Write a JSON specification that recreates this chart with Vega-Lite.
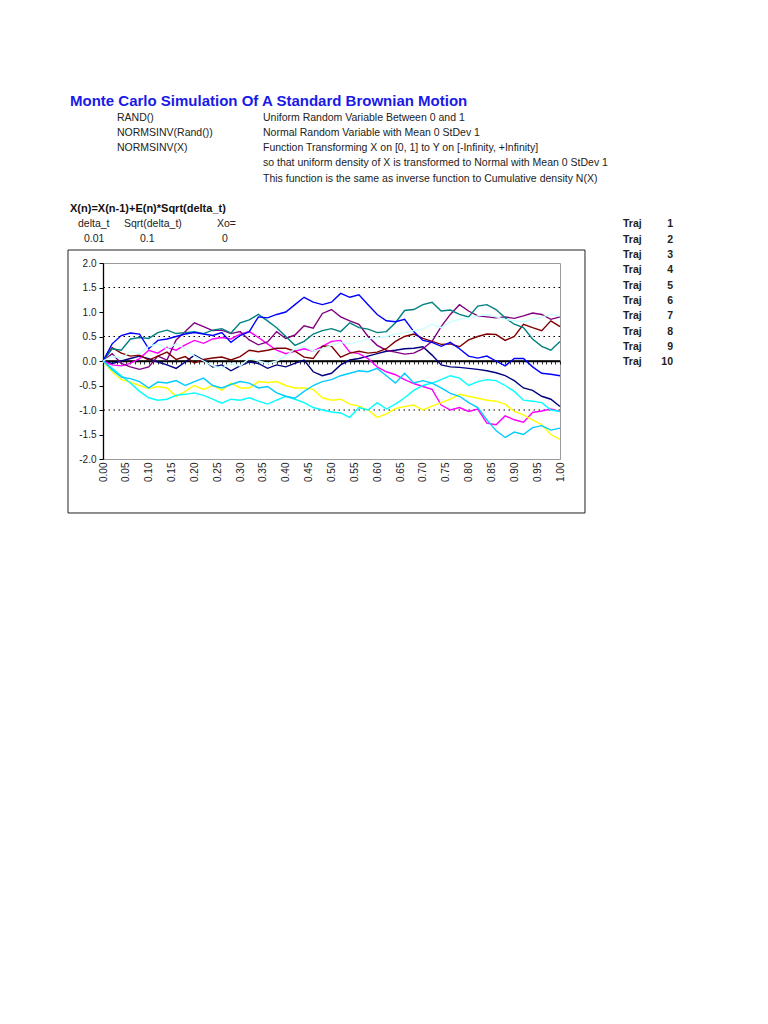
{
  "$schema": "https://vega.github.io/schema/vega-lite/v6.json",
  "width": 457,
  "height": 196,
  "autosize": {"type": "none"},
  "padding": {"left": 103, "top": 263, "right": 208, "bottom": 565},
  "background": "white",
  "config": {
    "view": {"stroke": "#9a9a9a", "strokeWidth": 1},
    "font": "Liberation Sans",
    "text": {"font": "Liberation Sans"},
    "locale": {"number": {"decimal": ".", "thousands": ",", "grouping": [3], "currency": ["$", ""], "minus": "-"}}
  },
  "data": {"values": [{}]},
  "datasets": {
    "grid": [{"g": 1.5}, {"g": 0.5}, {"g": -1.0}],
    "walk": [
      {"t":0.00,"Traj 1":0,"Traj 2":0,"Traj 3":0,"Traj 4":0,"Traj 5":0,"Traj 6":0,"Traj 7":0,"Traj 8":0,"Traj 9":0,"Traj 10":0},
      {"t":0.02,"Traj 1":-0.05,"Traj 2":-0.08,"Traj 3":-0.22,"Traj 4":-0.15,"Traj 5":0.15,"Traj 6":0.27,"Traj 7":0.25,"Traj 8":0.35,"Traj 9":-0.18,"Traj 10":0.1},
      {"t":0.04,"Traj 1":0,"Traj 2":-0.1,"Traj 3":-0.38,"Traj 4":-0.3,"Traj 5":-0.05,"Traj 6":0.16,"Traj 7":0.22,"Traj 8":0.52,"Traj 9":-0.33,"Traj 10":0.05},
      {"t":0.06,"Traj 1":0.05,"Traj 2":-0.05,"Traj 3":-0.43,"Traj 4":-0.45,"Traj 5":-0.12,"Traj 6":0.1,"Traj 7":0.45,"Traj 8":0.57,"Traj 9":-0.36,"Traj 10":0.2},
      {"t":0.08,"Traj 1":0.1,"Traj 2":0.05,"Traj 3":-0.5,"Traj 4":-0.62,"Traj 5":-0.17,"Traj 6":0.12,"Traj 7":0.48,"Traj 8":0.55,"Traj 9":-0.42,"Traj 10":0.15},
      {"t":0.10,"Traj 1":0.05,"Traj 2":0.22,"Traj 3":-0.56,"Traj 4":-0.75,"Traj 5":-0.12,"Traj 6":0.02,"Traj 7":0.46,"Traj 8":0.25,"Traj 9":-0.55,"Traj 10":0.3},
      {"t":0.12,"Traj 1":-0.02,"Traj 2":0.16,"Traj 3":-0.52,"Traj 4":-0.8,"Traj 5":0.1,"Traj 6":0.1,"Traj 7":0.58,"Traj 8":0.42,"Traj 9":-0.43,"Traj 10":0.35},
      {"t":0.14,"Traj 1":-0.08,"Traj 2":0.28,"Traj 3":-0.55,"Traj 4":-0.78,"Traj 5":0.02,"Traj 6":0.18,"Traj 7":0.63,"Traj 8":0.45,"Traj 9":-0.45,"Traj 10":0.25},
      {"t":0.16,"Traj 1":-0.15,"Traj 2":0.22,"Traj 3":-0.72,"Traj 4":-0.7,"Traj 5":0.43,"Traj 6":0.03,"Traj 7":0.56,"Traj 8":0.5,"Traj 9":-0.4,"Traj 10":0.35},
      {"t":0.18,"Traj 1":-0.02,"Traj 2":0.33,"Traj 3":-0.62,"Traj 4":-0.68,"Traj 5":0.6,"Traj 6":0.09,"Traj 7":0.58,"Traj 8":0.55,"Traj 9":-0.5,"Traj 10":0.25},
      {"t":0.20,"Traj 1":0.12,"Traj 2":0.42,"Traj 3":-0.5,"Traj 4":-0.65,"Traj 5":0.78,"Traj 6":-0.04,"Traj 7":0.6,"Traj 8":0.58,"Traj 9":-0.42,"Traj 10":0.1},
      {"t":0.22,"Traj 1":0.02,"Traj 2":0.36,"Traj 3":-0.58,"Traj 4":-0.7,"Traj 5":0.7,"Traj 6":0.03,"Traj 7":0.56,"Traj 8":0.55,"Traj 9":-0.35,"Traj 10":0},
      {"t":0.24,"Traj 1":-0.12,"Traj 2":0.45,"Traj 3":-0.5,"Traj 4":-0.78,"Traj 5":0.62,"Traj 6":0.06,"Traj 7":0.63,"Traj 8":0.52,"Traj 9":-0.5,"Traj 10":-0.1},
      {"t":0.26,"Traj 1":-0.08,"Traj 2":0.48,"Traj 3":-0.6,"Traj 4":-0.86,"Traj 5":0.63,"Traj 6":0.08,"Traj 7":0.66,"Traj 8":0.58,"Traj 9":-0.55,"Traj 10":-0.15},
      {"t":0.28,"Traj 1":-0.2,"Traj 2":0.45,"Traj 3":-0.45,"Traj 4":-0.78,"Traj 5":0.56,"Traj 6":0.02,"Traj 7":0.57,"Traj 8":0.38,"Traj 9":-0.48,"Traj 10":-0.05},
      {"t":0.30,"Traj 1":-0.1,"Traj 2":0.55,"Traj 3":-0.55,"Traj 4":-0.8,"Traj 5":0.6,"Traj 6":0.09,"Traj 7":0.78,"Traj 8":0.52,"Traj 9":-0.42,"Traj 10":-0.1},
      {"t":0.32,"Traj 1":-0.02,"Traj 2":0.6,"Traj 3":-0.55,"Traj 4":-0.75,"Traj 5":0.43,"Traj 6":0.22,"Traj 7":0.84,"Traj 8":0.6,"Traj 9":-0.45,"Traj 10":0.05},
      {"t":0.34,"Traj 1":-0.05,"Traj 2":0.48,"Traj 3":-0.42,"Traj 4":-0.82,"Traj 5":0.33,"Traj 6":0.19,"Traj 7":0.95,"Traj 8":0.9,"Traj 9":-0.55,"Traj 10":0},
      {"t":0.36,"Traj 1":-0.15,"Traj 2":0.35,"Traj 3":-0.44,"Traj 4":-0.88,"Traj 5":0.39,"Traj 6":0.22,"Traj 7":0.82,"Traj 8":0.88,"Traj 9":-0.52,"Traj 10":-0.05},
      {"t":0.38,"Traj 1":-0.08,"Traj 2":0.22,"Traj 3":-0.42,"Traj 4":-0.8,"Traj 5":0.6,"Traj 6":0.26,"Traj 7":0.68,"Traj 8":0.95,"Traj 9":-0.65,"Traj 10":0},
      {"t":0.40,"Traj 1":-0.12,"Traj 2":0.15,"Traj 3":-0.5,"Traj 4":-0.72,"Traj 5":0.46,"Traj 6":0.26,"Traj 7":0.5,"Traj 8":1.0,"Traj 9":-0.72,"Traj 10":0.1},
      {"t":0.42,"Traj 1":-0.05,"Traj 2":0.2,"Traj 3":-0.55,"Traj 4":-0.78,"Traj 5":0.53,"Traj 6":0.2,"Traj 7":0.32,"Traj 8":1.15,"Traj 9":-0.76,"Traj 10":0.25},
      {"t":0.44,"Traj 1":0.02,"Traj 2":0.25,"Traj 3":-0.55,"Traj 4":-0.85,"Traj 5":0.72,"Traj 6":0.08,"Traj 7":0.4,"Traj 8":1.3,"Traj 9":-0.62,"Traj 10":0.3},
      {"t":0.46,"Traj 1":-0.22,"Traj 2":0.2,"Traj 3":-0.58,"Traj 4":-0.95,"Traj 5":0.67,"Traj 6":0.05,"Traj 7":0.55,"Traj 8":1.2,"Traj 9":-0.5,"Traj 10":0.2},
      {"t":0.48,"Traj 1":-0.3,"Traj 2":0.3,"Traj 3":-0.75,"Traj 4":-1.0,"Traj 5":0.97,"Traj 6":0.3,"Traj 7":0.62,"Traj 8":1.15,"Traj 9":-0.42,"Traj 10":0.25},
      {"t":0.50,"Traj 1":-0.25,"Traj 2":0.4,"Traj 3":-0.8,"Traj 4":-1.04,"Traj 5":1.05,"Traj 6":0.3,"Traj 7":0.66,"Traj 8":1.2,"Traj 9":-0.38,"Traj 10":0.32},
      {"t":0.52,"Traj 1":-0.08,"Traj 2":0.42,"Traj 3":-0.78,"Traj 4":-1.06,"Traj 5":0.9,"Traj 6":0.08,"Traj 7":0.6,"Traj 8":1.38,"Traj 9":-0.3,"Traj 10":0.38},
      {"t":0.54,"Traj 1":0.02,"Traj 2":0.18,"Traj 3":-0.88,"Traj 4":-1.15,"Traj 5":0.82,"Traj 6":0.16,"Traj 7":0.78,"Traj 8":1.3,"Traj 9":-0.25,"Traj 10":0.35},
      {"t":0.56,"Traj 1":0.05,"Traj 2":0.15,"Traj 3":-0.92,"Traj 4":-0.95,"Traj 5":0.75,"Traj 6":0.2,"Traj 7":0.68,"Traj 8":1.35,"Traj 9":-0.2,"Traj 10":0.4},
      {"t":0.58,"Traj 1":0.1,"Traj 2":0.05,"Traj 3":-1.0,"Traj 4":-1.0,"Traj 5":0.5,"Traj 6":0.16,"Traj 7":0.65,"Traj 8":1.15,"Traj 9":-0.22,"Traj 10":0.45},
      {"t":0.60,"Traj 1":0.15,"Traj 2":-0.12,"Traj 3":-1.15,"Traj 4":-0.85,"Traj 5":0.32,"Traj 6":0.18,"Traj 7":0.58,"Traj 8":0.95,"Traj 9":-0.15,"Traj 10":0.48},
      {"t":0.62,"Traj 1":0.2,"Traj 2":-0.22,"Traj 3":-1.08,"Traj 4":-0.98,"Traj 5":0.22,"Traj 6":0.25,"Traj 7":0.6,"Traj 8":0.82,"Traj 9":-0.3,"Traj 10":0.5},
      {"t":0.64,"Traj 1":0.22,"Traj 2":-0.28,"Traj 3":-0.97,"Traj 4":-0.88,"Traj 5":0.18,"Traj 6":0.4,"Traj 7":0.78,"Traj 8":0.8,"Traj 9":-0.45,"Traj 10":0.55},
      {"t":0.66,"Traj 1":0.25,"Traj 2":-0.38,"Traj 3":-0.93,"Traj 4":-0.75,"Traj 5":0.14,"Traj 6":0.5,"Traj 7":1.03,"Traj 8":0.85,"Traj 9":-0.25,"Traj 10":0.58},
      {"t":0.68,"Traj 1":0.26,"Traj 2":-0.46,"Traj 3":-0.9,"Traj 4":-0.6,"Traj 5":0.16,"Traj 6":0.55,"Traj 7":1.05,"Traj 8":0.6,"Traj 9":-0.45,"Traj 10":0.62},
      {"t":0.70,"Traj 1":0.29,"Traj 2":-0.52,"Traj 3":-1.0,"Traj 4":-0.5,"Traj 5":0.25,"Traj 6":0.46,"Traj 7":1.15,"Traj 8":0.42,"Traj 9":-0.4,"Traj 10":0.65},
      {"t":0.72,"Traj 1":0.12,"Traj 2":-0.58,"Traj 3":-0.92,"Traj 4":-0.45,"Traj 5":0.4,"Traj 6":0.4,"Traj 7":1.2,"Traj 8":0.38,"Traj 9":-0.45,"Traj 10":0.75},
      {"t":0.74,"Traj 1":-0.08,"Traj 2":-0.9,"Traj 3":-0.85,"Traj 4":-0.38,"Traj 5":0.7,"Traj 6":0.34,"Traj 7":1.02,"Traj 8":0.3,"Traj 9":-0.55,"Traj 10":0.68},
      {"t":0.76,"Traj 1":-0.12,"Traj 2":-1.0,"Traj 3":-0.78,"Traj 4":-0.3,"Traj 5":0.95,"Traj 6":0.35,"Traj 7":1.04,"Traj 8":0.38,"Traj 9":-0.66,"Traj 10":0.8},
      {"t":0.78,"Traj 1":-0.13,"Traj 2":-0.95,"Traj 3":-0.68,"Traj 4":-0.35,"Traj 5":1.15,"Traj 6":0.29,"Traj 7":0.95,"Traj 8":0.25,"Traj 9":-0.72,"Traj 10":0.85},
      {"t":0.80,"Traj 1":-0.15,"Traj 2":-1.03,"Traj 3":-0.72,"Traj 4":-0.5,"Traj 5":1.02,"Traj 6":0.43,"Traj 7":0.9,"Traj 8":0.1,"Traj 9":-0.85,"Traj 10":0.88},
      {"t":0.82,"Traj 1":-0.17,"Traj 2":-0.98,"Traj 3":-0.76,"Traj 4":-0.42,"Traj 5":0.92,"Traj 6":0.5,"Traj 7":1.12,"Traj 8":0.06,"Traj 9":-0.95,"Traj 10":0.92},
      {"t":0.84,"Traj 1":-0.2,"Traj 2":-1.27,"Traj 3":-0.8,"Traj 4":-0.38,"Traj 5":0.9,"Traj 6":0.55,"Traj 7":1.15,"Traj 8":0.1,"Traj 9":-1.2,"Traj 10":0.95},
      {"t":0.86,"Traj 1":-0.24,"Traj 2":-1.3,"Traj 3":-0.82,"Traj 4":-0.4,"Traj 5":0.88,"Traj 6":0.54,"Traj 7":1.05,"Traj 8":0,"Traj 9":-1.42,"Traj 10":0.9},
      {"t":0.88,"Traj 1":-0.3,"Traj 2":-1.12,"Traj 3":-0.88,"Traj 4":-0.5,"Traj 5":0.9,"Traj 6":0.42,"Traj 7":0.88,"Traj 8":-0.1,"Traj 9":-1.56,"Traj 10":0.85},
      {"t":0.90,"Traj 1":-0.4,"Traj 2":-1.2,"Traj 3":-1.03,"Traj 4":-0.62,"Traj 5":0.87,"Traj 6":0.5,"Traj 7":0.75,"Traj 8":0.05,"Traj 9":-1.45,"Traj 10":0.82},
      {"t":0.92,"Traj 1":-0.55,"Traj 2":-1.25,"Traj 3":-1.1,"Traj 4":-0.8,"Traj 5":0.92,"Traj 6":0.75,"Traj 7":0.68,"Traj 8":0.05,"Traj 9":-1.5,"Traj 10":0.8},
      {"t":0.94,"Traj 1":-0.6,"Traj 2":-1.05,"Traj 3":-1.2,"Traj 4":-0.82,"Traj 5":0.98,"Traj 6":0.68,"Traj 7":0.45,"Traj 8":-0.12,"Traj 9":-1.36,"Traj 10":0.85},
      {"t":0.96,"Traj 1":-0.72,"Traj 2":-1.02,"Traj 3":-1.3,"Traj 4":-0.85,"Traj 5":0.95,"Traj 6":0.62,"Traj 7":0.3,"Traj 8":-0.25,"Traj 9":-1.32,"Traj 10":0.9},
      {"t":0.98,"Traj 1":-0.78,"Traj 2":-0.98,"Traj 3":-1.5,"Traj 4":-1.0,"Traj 5":0.85,"Traj 6":0.82,"Traj 7":0.22,"Traj 8":-0.27,"Traj 9":-1.41,"Traj 10":0.95},
      {"t":1.00,"Traj 1":-0.93,"Traj 2":-1.03,"Traj 3":-1.6,"Traj 4":-1.03,"Traj 5":0.9,"Traj 6":0.7,"Traj 7":0.4,"Traj 8":-0.3,"Traj 9":-1.37,"Traj 10":0.92}
    ]
  },
  "resolve": {"axis": {"x": "independent", "y": "independent"}},
  "layer": [
    {
      "mark": {"type": "rect", "fill": "transparent", "stroke": "#222222", "strokeWidth": 1},
      "encoding": {
        "x": {"datum": -0.0766, "type": "quantitative", "axis": null},
        "x2": {"datum": 1.0547},
        "y": {"datum": 2.265, "type": "quantitative", "axis": null},
        "y2": {"datum": -3.102}
      }
    },
    {
      "data": {"name": "grid"},
      "mark": {"type": "rule", "color": "#000000", "strokeWidth": 1, "strokeDash": [1.5, 3.5]},
      "encoding": {
        "y": {"field": "g", "type": "quantitative", "axis": null}
      }
    },
    {
      "data": {"name": "walk"},
      "mark": {"type": "line", "color": "#000000", "strokeWidth": 1.3},
      "encoding": {
        "x": {
          "field": "t", "type": "quantitative",
          "axis": {"orient": "top", "offset": -98, "labels": false, "domain": true, "domainColor": "#000000", "domainWidth": 1.3, "ticks": true, "tickCount": 100, "tickSize": -3, "tickColor": "#000000", "tickWidth": 0.8, "grid": false, "title": null}
        },
        "y": {"datum": 0, "type": "quantitative", "axis": null}
      }
    },
    {
      "data": {"name": "walk"},
      "transform": [
        {"fold": ["Traj 1", "Traj 2", "Traj 3", "Traj 4", "Traj 5", "Traj 6", "Traj 7", "Traj 8", "Traj 9", "Traj 10"], "as": ["traj", "v"]}
      ],
      "mark": {"type": "line", "strokeWidth": 1.4},
      "encoding": {
        "x": {
          "field": "t", "type": "quantitative",
          "scale": {"domain": [0, 1], "nice": false, "zero": false},
          "axis": {"orient": "bottom", "values": [0, 0.05, 0.1, 0.15, 0.2, 0.25, 0.3, 0.35, 0.4, 0.45, 0.5, 0.55, 0.6, 0.65, 0.7, 0.75, 0.8, 0.85, 0.9, 0.95, 1], "format": ".2f", "labelAngle": 270, "domain": false, "ticks": false, "grid": false, "title": null, "labelFontSize": 10, "labelPadding": 3, "labelColor": "#222222", "labelFont": "Liberation Sans"}
        },
        "y": {
          "field": "v", "type": "quantitative",
          "scale": {"domain": [-2, 2], "nice": false, "zero": false},
          "axis": {"values": [-2, -1.5, -1, -0.5, 0, 0.5, 1, 1.5, 2], "format": ".1f", "title": null, "grid": false, "domainColor": "#000000", "domainWidth": 1.3, "tickColor": "#000000", "tickSize": 4, "labelFontSize": 10, "labelColor": "#222222", "labelPadding": 3, "labelFont": "Liberation Sans"}
        },
        "color": {
          "field": "traj", "type": "nominal",
          "scale": {
            "domain": ["Traj 1", "Traj 2", "Traj 3", "Traj 4", "Traj 5", "Traj 6", "Traj 7", "Traj 8", "Traj 9", "Traj 10"],
            "range": ["#000080", "#FF00FF", "#FFFF00", "#00FFFF", "#800080", "#800000", "#008080", "#0000FF", "#00CCFF", "#CCFFFF"]
          },
          "legend": null
        }
      }
    },
    {
      "mark": {"type": "text", "text": "Monte Carlo Simulation Of A Standard Brownian Motion", "align": "left", "baseline": "middle", "fontSize": 15, "fontWeight": "bold", "color": "#1a1ae6"},
      "encoding": {"x": {"datum": -0.0722, "type": "quantitative", "axis": null}, "y": {"datum": 5.306, "type": "quantitative", "axis": null}}
    },
    {
      "mark": {"type": "text", "text": ["RAND()", "NORMSINV(Rand())", "NORMSINV(X)"], "align": "left", "baseline": "top", "fontSize": 10.5, "lineHeight": 15.3, "color": "#222222"},
      "encoding": {"x": {"datum": 0.0306, "type": "quantitative", "axis": null}, "y": {"datum": 5.071, "type": "quantitative", "axis": null}}
    },
    {
      "mark": {"type": "text", "text": ["Uniform Random Variable Between 0 and 1", "Normal Random Variable with Mean 0 StDev 1", "Function Transforming X on [0, 1] to Y on [-Infinity, +Infinity]", "so that uniform density of X is transformed to Normal with Mean 0 StDev 1", "This function is the same as inverse function to Cumulative density N(X)"], "align": "left", "baseline": "top", "fontSize": 10.5, "lineHeight": 15.3, "color": "#222222"},
      "encoding": {"x": {"datum": 0.3501, "type": "quantitative", "axis": null}, "y": {"datum": 5.071, "type": "quantitative", "axis": null}}
    },
    {
      "mark": {"type": "text", "text": "X(n)=X(n-1)+E(n)*Sqrt(delta_t)", "align": "left", "baseline": "middle", "fontSize": 11, "fontWeight": "bold", "color": "#111111"},
      "encoding": {"x": {"datum": -0.0722, "type": "quantitative", "axis": null}, "y": {"datum": 3.102, "type": "quantitative", "axis": null}}
    },
    {
      "mark": {"type": "text", "text": "delta_t", "align": "left", "baseline": "middle", "fontSize": 10.5, "color": "#222222"},
      "encoding": {"x": {"datum": -0.0547, "type": "quantitative", "axis": null}, "y": {"datum": 2.796, "type": "quantitative", "axis": null}}
    },
    {
      "mark": {"type": "text", "text": "Sqrt(delta_t)", "align": "left", "baseline": "middle", "fontSize": 10.5, "color": "#222222"},
      "encoding": {"x": {"datum": 0.046, "type": "quantitative", "axis": null}, "y": {"datum": 2.796, "type": "quantitative", "axis": null}}
    },
    {
      "mark": {"type": "text", "text": "Xo=", "align": "left", "baseline": "middle", "fontSize": 10.5, "color": "#222222"},
      "encoding": {"x": {"datum": 0.2495, "type": "quantitative", "axis": null}, "y": {"datum": 2.796, "type": "quantitative", "axis": null}}
    },
    {
      "mark": {"type": "text", "text": "0.01", "align": "left", "baseline": "middle", "fontSize": 10.5, "color": "#222222"},
      "encoding": {"x": {"datum": -0.0416, "type": "quantitative", "axis": null}, "y": {"datum": 2.482, "type": "quantitative", "axis": null}}
    },
    {
      "mark": {"type": "text", "text": "0.1", "align": "left", "baseline": "middle", "fontSize": 10.5, "color": "#222222"},
      "encoding": {"x": {"datum": 0.081, "type": "quantitative", "axis": null}, "y": {"datum": 2.482, "type": "quantitative", "axis": null}}
    },
    {
      "mark": {"type": "text", "text": "0", "align": "left", "baseline": "middle", "fontSize": 10.5, "color": "#222222"},
      "encoding": {"x": {"datum": 0.2604, "type": "quantitative", "axis": null}, "y": {"datum": 2.482, "type": "quantitative", "axis": null}}
    },
    {
      "mark": {"type": "text", "text": ["Traj", "Traj", "Traj", "Traj", "Traj", "Traj", "Traj", "Traj", "Traj", "Traj"], "align": "left", "baseline": "top", "fontSize": 10.5, "fontWeight": "bold", "lineHeight": 15.3, "color": "#222222"},
      "encoding": {"x": {"datum": 1.1379, "type": "quantitative", "axis": null}, "y": {"datum": 2.888, "type": "quantitative", "axis": null}}
    },
    {
      "mark": {"type": "text", "text": ["1", "2", "3", "4", "5", "6", "7", "8", "9", "10"], "align": "right", "baseline": "top", "fontSize": 10.5, "fontWeight": "bold", "lineHeight": 15.3, "color": "#222222"},
      "encoding": {"x": {"datum": 1.2473, "type": "quantitative", "axis": null}, "y": {"datum": 2.888, "type": "quantitative", "axis": null}}
    }
  ]
}
